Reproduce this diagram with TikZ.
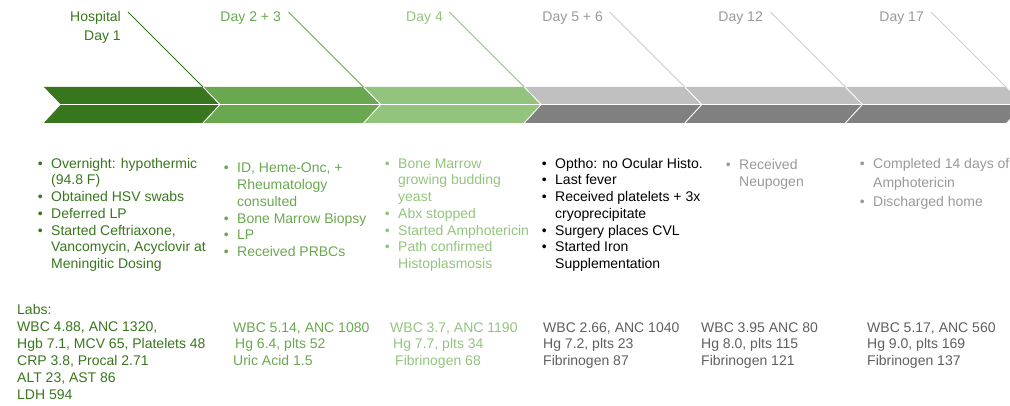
\documentclass[tikz,border=0pt]{standalone}
\usepackage{fontspec}
\setmainfont{Liberation Sans}
\definecolor{dg}{HTML}{38761D}
\definecolor{mg}{HTML}{6AA84F}
\definecolor{lg}{HTML}{93C47D}
\definecolor{gu}{HTML}{C0C0C0}
\definecolor{gd}{HTML}{808080}
\definecolor{gline}{HTML}{CCCCCC}
\definecolor{gtxt}{HTML}{999999}
\definecolor{glab}{HTML}{5F5F5F}
\begin{document}
\begin{tikzpicture}[x=1pt,y=-1pt,
  daylbl/.style={inner sep=0pt,anchor=base east,font=\fontsize{14}{19}\selectfont},
  blist/.style={inner sep=0pt,anchor=base west,font=\fontsize{14}{16.7}\selectfont},
  labs/.style={inner sep=0pt,anchor=base west,font=\fontsize{14}{16.9}\selectfont},
  tick/.style={line width=0.9pt}]
\useasboundingbox (0,0) rectangle (1010,406);
\clip (0,0) rectangle (1010,406);
% timeline band
\foreach \a/\b/\c/\d in {60/220/dg/dg,220/380.6/mg/mg,380.6/541.2/lg/lg,541.2/701.8/gu/gd,701.8/862.4/gu/gd,862.4/1023/gu/gd}{
  \fill[\c] (\a-17,87) -- (\b-17,87) -- (\b,104.5) -- (\a,104.5) -- cycle;
  \fill[\d] (\a,104.5) -- (\b,104.5) -- (\b-17,123) -- (\a-17,123) -- cycle;
  \draw[white,line width=0.9pt] (\a-17,87) -- (\a,104.5) -- (\a-17,123);
}
\draw[white,line width=0.8pt] (60,104.5) -- (1010,104.5);
% corners and tick starts
\foreach \i/\x in {1/203,2/363.6,3/524.2,4/684.8,5/845.4,6/1006}{
  \coordinate (c\i) at (\x,87);
  \coordinate (s\i) at (\x-75,12);
}
\draw[tick,dg] (s1) -- (c1);
\draw[tick,mg] (s2) -- (c2);
\draw[tick,lg] (s3) -- (c3);
\draw[tick,gline] (s4) -- (c4);
\draw[tick,gline] (s5) -- (c5);
\draw[tick,gline] (s6) -- (c6);
% day labels
\node[daylbl,text=dg] (d1) at (121,21.7) {\begin{tabular}[t]{@{}r@{}}Hospital\\Day 1\end{tabular}};
\node[daylbl,text=mg] (d2) at (281,21.7) {Day 2 + 3};
\node[daylbl,text=lg] (d3) at (443,21.7) {Day 4};
\node[daylbl,text=gtxt] (d4) at (603,21.7) {Day 5 + 6};
\node[daylbl,text=gtxt] (d5) at (763,21.7) {Day 12};
\node[daylbl,text=gtxt] (d6) at (924,21.7) {Day 17};
% event lists
\node[blist,text=dg] (e1) at (37.6,168.3) {\begin{tabular}[t]{@{}l@{\hspace{8.5pt}}l@{}}
\textbullet & Overnight: hypothermic\\ & (94.8 F)\\
\textbullet & Obtained HSV swabs\\
\textbullet & Deferred LP\\
\textbullet & Started Ceftriaxone,\\ & Vancomycin, Acyclovir at\\ & Meningitic Dosing\end{tabular}};
\node[blist,text=mg] (e2) at (223.6,173) {\begin{tabular}[t]{@{}l@{\hspace{8.5pt}}l@{}}
\textbullet & ID, Heme-Onc, +\\ & Rheumatology\\ & consulted\\
\textbullet & Bone Marrow Biopsy\\
\textbullet & LP\\
\textbullet & Received PRBCs\end{tabular}};
\node[blist,text=lg] (e3) at (384.6,168.3) {\begin{tabular}[t]{@{}l@{\hspace{8.5pt}}l@{}}
\textbullet & Bone Marrow\\ & growing budding\\ & yeast\\
\textbullet & Abx stopped\\
\textbullet & Started Amphotericin\\
\textbullet & Path confirmed\\ & Histoplasmosis\end{tabular}};
\node[blist,text=black] (e4) at (541.6,168.3) {\begin{tabular}[t]{@{}l@{\hspace{8.5pt}}l@{}}
\textbullet & Optho: no Ocular Histo.\\
\textbullet & Last fever\\
\textbullet & Received platelets + 3x\\ & cryoprecipitate\\
\textbullet & Surgery places CVL\\
\textbullet & Started Iron\\ & Supplementation\end{tabular}};
\node[blist,text=gtxt] (e5) at (725.6,170) {\begin{tabular}[t]{@{}l@{\hspace{8.5pt}}l@{}}
\textbullet & Received\\ & Neupogen\end{tabular}};
\node[blist,text=gtxt,font=\fontsize{14}{19.2}\selectfont] (e6) at (859.6,168.3) {\begin{tabular}[t]{@{}l@{\hspace{8.5pt}}l@{}}
\textbullet & Completed 14 days of\\ & Amphotericin\\
\textbullet & Discharged home\end{tabular}};
% labs
\node[labs,text=dg] (r1) at (17,315) {\begin{tabular}[t]{@{}l@{}}
Labs:\\ WBC 4.88, ANC 1320,\\ Hgb 7.1, MCV 65, Platelets 48\\ CRP 3.8, Procal 2.71\\ ALT 23, AST 86\\ LDH 594\end{tabular}};
\node[labs,text=mg] (r2) at (233,332) {\begin{tabular}[t]{@{}l@{}}
WBC 5.14, ANC 1080\\ \hspace{2pt}Hg 6.4, plts 52\\ Uric Acid 1.5\end{tabular}};
\node[labs,text=lg] (r3) at (390,332) {\begin{tabular}[t]{@{}l@{}}
WBC 3.7, ANC 1190\\ \hspace{3pt}Hg 7.7, plts 34\\ \hspace{5pt}Fibrinogen 68\end{tabular}};
\node[labs,text=glab] (r4) at (543,332) {\begin{tabular}[t]{@{}l@{}}
WBC 2.66, ANC 1040\\ Hg 7.2, plts 23\\ Fibrinogen 87\end{tabular}};
\node[labs,text=glab] (r5) at (701,332) {\begin{tabular}[t]{@{}l@{}}
WBC 3.95 ANC 80\\ Hg 8.0, plts 115\\ Fibrinogen 121\end{tabular}};
\node[labs,text=glab] (r6) at (867,332) {\begin{tabular}[t]{@{}l@{}}
WBC 5.17, ANC 560\\ Hg 9.0, plts 169\\ Fibrinogen 137\end{tabular}};
\end{tikzpicture}
\end{document}
